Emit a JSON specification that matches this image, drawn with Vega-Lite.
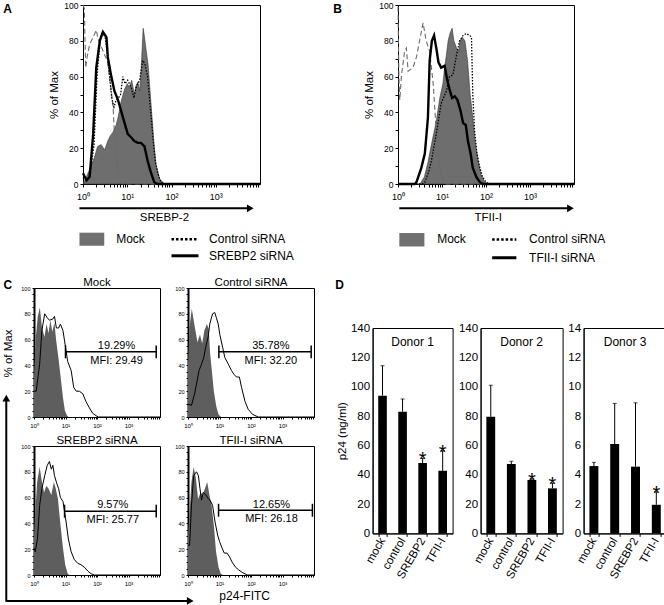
{
"$schema":"https://vega.github.io/schema/vega-lite/v6.json",
"padding":{"left":1,"top":0,"right":0,"bottom":0},
"background":"white",
"config":{"font":"Liberation Sans","view":{"stroke":"black","strokeWidth":1},
"axis":{"grid":false,"domainColor":"black","tickColor":"black","labelColor":"black","titleColor":"black","titleFontWeight":"normal","labelFont":"Liberation Sans","titleFont":"Liberation Sans"},
"title":{"font":"Liberation Sans","fontWeight":"normal","color":"black"},
"text":{"font":"Liberation Sans","color":"black"}},
"datasets":{
"hist":[
{"p":"A","s":"m","x":0,"y":0},{"p":"A","s":"m","x":0.04,"y":2},{"p":"A","s":"m","x":0.15,"y":8},{"p":"A","s":"m","x":0.26,"y":15},{"p":"A","s":"m","x":0.33,"y":21},{"p":"A","s":"m","x":0.41,"y":22},{"p":"A","s":"m","x":0.49,"y":19},{"p":"A","s":"m","x":0.56,"y":24},{"p":"A","s":"m","x":0.62,"y":27},{"p":"A","s":"m","x":0.68,"y":29},{"p":"A","s":"m","x":0.75,"y":33},{"p":"A","s":"m","x":0.8,"y":38},{"p":"A","s":"m","x":0.86,"y":46},{"p":"A","s":"m","x":0.94,"y":53},{"p":"A","s":"m","x":1,"y":56},{"p":"A","s":"m","x":1.05,"y":54},{"p":"A","s":"m","x":1.1,"y":58},{"p":"A","s":"m","x":1.16,"y":50},{"p":"A","s":"m","x":1.2,"y":55},{"p":"A","s":"m","x":1.24,"y":57},{"p":"A","s":"m","x":1.28,"y":52},{"p":"A","s":"m","x":1.31,"y":62},{"p":"A","s":"m","x":1.36,"y":87},{"p":"A","s":"m","x":1.39,"y":82},{"p":"A","s":"m","x":1.42,"y":76},{"p":"A","s":"m","x":1.47,"y":67},{"p":"A","s":"m","x":1.53,"y":47},{"p":"A","s":"m","x":1.6,"y":24},{"p":"A","s":"m","x":1.65,"y":11},{"p":"A","s":"m","x":1.73,"y":3},{"p":"A","s":"m","x":1.84,"y":0},{"p":"A","s":"m","x":4,"y":0},
{"p":"A","s":"c","x":0,"y":4},{"p":"A","s":"c","x":0.08,"y":2},{"p":"A","s":"c","x":0.15,"y":4},{"p":"A","s":"c","x":0.25,"y":22},{"p":"A","s":"c","x":0.32,"y":62},{"p":"A","s":"c","x":0.4,"y":83},{"p":"A","s":"c","x":0.44,"y":85},{"p":"A","s":"c","x":0.5,"y":82},{"p":"A","s":"c","x":0.55,"y":73},{"p":"A","s":"c","x":0.6,"y":60},{"p":"A","s":"c","x":0.65,"y":48},{"p":"A","s":"c","x":0.7,"y":43},{"p":"A","s":"c","x":0.75,"y":47},{"p":"A","s":"c","x":0.8,"y":48},{"p":"A","s":"c","x":0.85,"y":50},{"p":"A","s":"c","x":0.9,"y":60},{"p":"A","s":"c","x":0.95,"y":56},{"p":"A","s":"c","x":1.01,"y":58},{"p":"A","s":"c","x":1.09,"y":54},{"p":"A","s":"c","x":1.15,"y":48},{"p":"A","s":"c","x":1.2,"y":54},{"p":"A","s":"c","x":1.28,"y":58},{"p":"A","s":"c","x":1.35,"y":69},{"p":"A","s":"c","x":1.4,"y":67},{"p":"A","s":"c","x":1.46,"y":60},{"p":"A","s":"c","x":1.52,"y":43},{"p":"A","s":"c","x":1.58,"y":26},{"p":"A","s":"c","x":1.63,"y":13},{"p":"A","s":"c","x":1.69,"y":6},{"p":"A","s":"c","x":1.76,"y":1},{"p":"A","s":"c","x":1.84,"y":0},{"p":"A","s":"c","x":4,"y":0},
{"p":"A","s":"k","x":0,"y":6},{"p":"A","s":"k","x":0.08,"y":2},{"p":"A","s":"k","x":0.15,"y":4},{"p":"A","s":"k","x":0.23,"y":28},{"p":"A","s":"k","x":0.3,"y":65},{"p":"A","s":"k","x":0.38,"y":80},{"p":"A","s":"k","x":0.45,"y":85},{"p":"A","s":"k","x":0.53,"y":82},{"p":"A","s":"k","x":0.56,"y":71},{"p":"A","s":"k","x":0.64,"y":60},{"p":"A","s":"k","x":0.71,"y":52},{"p":"A","s":"k","x":0.79,"y":47},{"p":"A","s":"k","x":0.86,"y":41},{"p":"A","s":"k","x":0.94,"y":34},{"p":"A","s":"k","x":1.01,"y":28},{"p":"A","s":"k","x":1.09,"y":26},{"p":"A","s":"k","x":1.16,"y":24},{"p":"A","s":"k","x":1.24,"y":23},{"p":"A","s":"k","x":1.31,"y":23},{"p":"A","s":"k","x":1.39,"y":21},{"p":"A","s":"k","x":1.46,"y":13},{"p":"A","s":"k","x":1.54,"y":6},{"p":"A","s":"k","x":1.61,"y":1},{"p":"A","s":"k","x":1.69,"y":0},{"p":"A","s":"k","x":4,"y":0},
{"p":"A","s":"i","x":0,"y":100},{"p":"A","s":"i","x":0.03,"y":98},{"p":"A","s":"i","x":0.06,"y":65},{"p":"A","s":"i","x":0.1,"y":72},{"p":"A","s":"i","x":0.15,"y":78},{"p":"A","s":"i","x":0.23,"y":82},{"p":"A","s":"i","x":0.3,"y":86},{"p":"A","s":"i","x":0.34,"y":81},{"p":"A","s":"i","x":0.41,"y":77},{"p":"A","s":"i","x":0.49,"y":72},{"p":"A","s":"i","x":0.55,"y":69},{"p":"A","s":"i","x":0.62,"y":56},{"p":"A","s":"i","x":0.68,"y":43},{"p":"A","s":"i","x":0.71,"y":28},{"p":"A","s":"i","x":0.75,"y":17},{"p":"A","s":"i","x":0.79,"y":7},{"p":"A","s":"i","x":0.85,"y":1},{"p":"A","s":"i","x":0.9,"y":0},{"p":"A","s":"i","x":4,"y":0},
{"p":"B","s":"m","x":0,"y":0},{"p":"B","s":"m","x":0.5,"y":0},{"p":"B","s":"m","x":0.6,"y":4},{"p":"B","s":"m","x":0.68,"y":12},{"p":"B","s":"m","x":0.76,"y":22},{"p":"B","s":"m","x":0.87,"y":35},{"p":"B","s":"m","x":0.95,"y":48},{"p":"B","s":"m","x":1.02,"y":56},{"p":"B","s":"m","x":1.06,"y":65},{"p":"B","s":"m","x":1.1,"y":72},{"p":"B","s":"m","x":1.14,"y":80},{"p":"B","s":"m","x":1.18,"y":84},{"p":"B","s":"m","x":1.23,"y":87},{"p":"B","s":"m","x":1.27,"y":80},{"p":"B","s":"m","x":1.33,"y":76},{"p":"B","s":"m","x":1.38,"y":74},{"p":"B","s":"m","x":1.41,"y":80},{"p":"B","s":"m","x":1.46,"y":82},{"p":"B","s":"m","x":1.52,"y":80},{"p":"B","s":"m","x":1.58,"y":69},{"p":"B","s":"m","x":1.64,"y":50},{"p":"B","s":"m","x":1.7,"y":37},{"p":"B","s":"m","x":1.75,"y":24},{"p":"B","s":"m","x":1.82,"y":13},{"p":"B","s":"m","x":1.89,"y":5},{"p":"B","s":"m","x":1.97,"y":1},{"p":"B","s":"m","x":2.05,"y":0},{"p":"B","s":"m","x":4,"y":0},
{"p":"B","s":"c","x":0,"y":0},{"p":"B","s":"c","x":0.55,"y":0},{"p":"B","s":"c","x":0.61,"y":1},{"p":"B","s":"c","x":0.7,"y":7},{"p":"B","s":"c","x":0.76,"y":13},{"p":"B","s":"c","x":0.87,"y":28},{"p":"B","s":"c","x":0.98,"y":45},{"p":"B","s":"c","x":1.1,"y":52},{"p":"B","s":"c","x":1.17,"y":60},{"p":"B","s":"c","x":1.25,"y":61},{"p":"B","s":"c","x":1.33,"y":72},{"p":"B","s":"c","x":1.4,"y":80},{"p":"B","s":"c","x":1.48,"y":83},{"p":"B","s":"c","x":1.55,"y":84},{"p":"B","s":"c","x":1.63,"y":83},{"p":"B","s":"c","x":1.67,"y":82},{"p":"B","s":"c","x":1.7,"y":50},{"p":"B","s":"c","x":1.74,"y":30},{"p":"B","s":"c","x":1.79,"y":18},{"p":"B","s":"c","x":1.85,"y":10},{"p":"B","s":"c","x":1.92,"y":4},{"p":"B","s":"c","x":2,"y":1},{"p":"B","s":"c","x":2.08,"y":0},{"p":"B","s":"c","x":4,"y":0},
{"p":"B","s":"k","x":0,"y":0},{"p":"B","s":"k","x":0.38,"y":0},{"p":"B","s":"k","x":0.42,"y":1},{"p":"B","s":"k","x":0.53,"y":9},{"p":"B","s":"k","x":0.61,"y":17},{"p":"B","s":"k","x":0.68,"y":37},{"p":"B","s":"k","x":0.72,"y":69},{"p":"B","s":"k","x":0.77,"y":80},{"p":"B","s":"k","x":0.82,"y":83},{"p":"B","s":"k","x":0.87,"y":76},{"p":"B","s":"k","x":0.92,"y":68},{"p":"B","s":"k","x":0.98,"y":65},{"p":"B","s":"k","x":1.06,"y":66},{"p":"B","s":"k","x":1.12,"y":58},{"p":"B","s":"k","x":1.17,"y":53},{"p":"B","s":"k","x":1.23,"y":48},{"p":"B","s":"k","x":1.29,"y":49},{"p":"B","s":"k","x":1.35,"y":47},{"p":"B","s":"k","x":1.42,"y":41},{"p":"B","s":"k","x":1.48,"y":34},{"p":"B","s":"k","x":1.54,"y":33},{"p":"B","s":"k","x":1.59,"y":24},{"p":"B","s":"k","x":1.65,"y":17},{"p":"B","s":"k","x":1.7,"y":9},{"p":"B","s":"k","x":1.78,"y":4},{"p":"B","s":"k","x":1.86,"y":1},{"p":"B","s":"k","x":1.93,"y":0},{"p":"B","s":"k","x":4,"y":0},
{"p":"B","s":"i","x":0,"y":99},{"p":"B","s":"i","x":0.02,"y":60},{"p":"B","s":"i","x":0.04,"y":47},{"p":"B","s":"i","x":0.08,"y":61},{"p":"B","s":"i","x":0.15,"y":74},{"p":"B","s":"i","x":0.19,"y":76},{"p":"B","s":"i","x":0.23,"y":63},{"p":"B","s":"i","x":0.34,"y":65},{"p":"B","s":"i","x":0.42,"y":71},{"p":"B","s":"i","x":0.49,"y":80},{"p":"B","s":"i","x":0.57,"y":90},{"p":"B","s":"i","x":0.64,"y":80},{"p":"B","s":"i","x":0.72,"y":74},{"p":"B","s":"i","x":0.8,"y":56},{"p":"B","s":"i","x":0.85,"y":37},{"p":"B","s":"i","x":0.89,"y":22},{"p":"B","s":"i","x":0.95,"y":9},{"p":"B","s":"i","x":1.02,"y":2},{"p":"B","s":"i","x":1.1,"y":0},{"p":"B","s":"i","x":4,"y":0},
{"p":"CM","s":"g","x":0,"y":30},{"p":"CM","s":"g","x":0.05,"y":60},{"p":"CM","s":"g","x":0.12,"y":78},{"p":"CM","s":"g","x":0.185,"y":85},{"p":"CM","s":"g","x":0.25,"y":70},{"p":"CM","s":"g","x":0.33,"y":62},{"p":"CM","s":"g","x":0.4,"y":72},{"p":"CM","s":"g","x":0.46,"y":65},{"p":"CM","s":"g","x":0.52,"y":75},{"p":"CM","s":"g","x":0.58,"y":66},{"p":"CM","s":"g","x":0.65,"y":73},{"p":"CM","s":"g","x":0.7,"y":60},{"p":"CM","s":"g","x":0.78,"y":45},{"p":"CM","s":"g","x":0.85,"y":30},{"p":"CM","s":"g","x":0.92,"y":15},{"p":"CM","s":"g","x":0.98,"y":5},{"p":"CM","s":"g","x":1.05,"y":1},{"p":"CM","s":"g","x":1.1,"y":0},{"p":"CM","s":"g","x":4,"y":0},
{"p":"CM","s":"o","x":0,"y":20},{"p":"CM","s":"o","x":0.07,"y":20},{"p":"CM","s":"o","x":0.18,"y":41},{"p":"CM","s":"o","x":0.25,"y":67},{"p":"CM","s":"o","x":0.34,"y":80},{"p":"CM","s":"o","x":0.42,"y":77},{"p":"CM","s":"o","x":0.49,"y":75},{"p":"CM","s":"o","x":0.6,"y":76},{"p":"CM","s":"o","x":0.65,"y":78},{"p":"CM","s":"o","x":0.71,"y":69},{"p":"CM","s":"o","x":0.78,"y":69},{"p":"CM","s":"o","x":0.84,"y":72},{"p":"CM","s":"o","x":0.92,"y":67},{"p":"CM","s":"o","x":0.97,"y":59},{"p":"CM","s":"o","x":1.02,"y":51},{"p":"CM","s":"o","x":1.07,"y":43},{"p":"CM","s":"o","x":1.18,"y":36},{"p":"CM","s":"o","x":1.26,"y":23},{"p":"CM","s":"o","x":1.34,"y":20},{"p":"CM","s":"o","x":1.44,"y":20},{"p":"CM","s":"o","x":1.55,"y":18},{"p":"CM","s":"o","x":1.65,"y":12},{"p":"CM","s":"o","x":1.76,"y":7},{"p":"CM","s":"o","x":1.86,"y":3},{"p":"CM","s":"o","x":1.97,"y":1},{"p":"CM","s":"o","x":2.04,"y":0},{"p":"CM","s":"o","x":4,"y":0},
{"p":"CC","s":"g","x":0,"y":40},{"p":"CC","s":"g","x":0.05,"y":70},{"p":"CC","s":"g","x":0.12,"y":84},{"p":"CC","s":"g","x":0.2,"y":72},{"p":"CC","s":"g","x":0.3,"y":58},{"p":"CC","s":"g","x":0.38,"y":64},{"p":"CC","s":"g","x":0.45,"y":57},{"p":"CC","s":"g","x":0.52,"y":67},{"p":"CC","s":"g","x":0.6,"y":72},{"p":"CC","s":"g","x":0.66,"y":68},{"p":"CC","s":"g","x":0.7,"y":50},{"p":"CC","s":"g","x":0.76,"y":35},{"p":"CC","s":"g","x":0.82,"y":20},{"p":"CC","s":"g","x":0.9,"y":8},{"p":"CC","s":"g","x":0.97,"y":2},{"p":"CC","s":"g","x":1.05,"y":0},{"p":"CC","s":"g","x":4,"y":0},
{"p":"CC","s":"o","x":0,"y":10},{"p":"CC","s":"o","x":0.11,"y":9},{"p":"CC","s":"o","x":0.21,"y":18},{"p":"CC","s":"o","x":0.29,"y":28},{"p":"CC","s":"o","x":0.35,"y":36},{"p":"CC","s":"o","x":0.43,"y":41},{"p":"CC","s":"o","x":0.5,"y":46},{"p":"CC","s":"o","x":0.56,"y":54},{"p":"CC","s":"o","x":0.64,"y":62},{"p":"CC","s":"o","x":0.69,"y":72},{"p":"CC","s":"o","x":0.78,"y":80},{"p":"CC","s":"o","x":0.85,"y":81},{"p":"CC","s":"o","x":0.9,"y":77},{"p":"CC","s":"o","x":0.96,"y":72},{"p":"CC","s":"o","x":1.01,"y":64},{"p":"CC","s":"o","x":1.1,"y":54},{"p":"CC","s":"o","x":1.17,"y":46},{"p":"CC","s":"o","x":1.28,"y":41},{"p":"CC","s":"o","x":1.38,"y":36},{"p":"CC","s":"o","x":1.46,"y":33},{"p":"CC","s":"o","x":1.54,"y":31},{"p":"CC","s":"o","x":1.63,"y":31},{"p":"CC","s":"o","x":1.7,"y":23},{"p":"CC","s":"o","x":1.81,"y":12},{"p":"CC","s":"o","x":1.91,"y":6},{"p":"CC","s":"o","x":2.05,"y":2},{"p":"CC","s":"o","x":2.23,"y":0},{"p":"CC","s":"o","x":4,"y":0},
{"p":"CS","s":"g","x":0,"y":30},{"p":"CS","s":"g","x":0.02,"y":41},{"p":"CS","s":"g","x":0.1,"y":72},{"p":"CS","s":"g","x":0.18,"y":84},{"p":"CS","s":"g","x":0.25,"y":72},{"p":"CS","s":"g","x":0.32,"y":64},{"p":"CS","s":"g","x":0.39,"y":69},{"p":"CS","s":"g","x":0.46,"y":67},{"p":"CS","s":"g","x":0.55,"y":62},{"p":"CS","s":"g","x":0.63,"y":72},{"p":"CS","s":"g","x":0.69,"y":67},{"p":"CS","s":"g","x":0.76,"y":59},{"p":"CS","s":"g","x":0.84,"y":39},{"p":"CS","s":"g","x":0.92,"y":21},{"p":"CS","s":"g","x":0.99,"y":8},{"p":"CS","s":"g","x":1.07,"y":1},{"p":"CS","s":"g","x":1.12,"y":0},{"p":"CS","s":"g","x":4,"y":0},
{"p":"CS","s":"o","x":0,"y":21},{"p":"CS","s":"o","x":0.04,"y":18},{"p":"CS","s":"o","x":0.11,"y":28},{"p":"CS","s":"o","x":0.18,"y":54},{"p":"CS","s":"o","x":0.25,"y":67},{"p":"CS","s":"o","x":0.34,"y":77},{"p":"CS","s":"o","x":0.42,"y":85},{"p":"CS","s":"o","x":0.49,"y":88},{"p":"CS","s":"o","x":0.55,"y":82},{"p":"CS","s":"o","x":0.6,"y":85},{"p":"CS","s":"o","x":0.65,"y":77},{"p":"CS","s":"o","x":0.71,"y":72},{"p":"CS","s":"o","x":0.78,"y":67},{"p":"CS","s":"o","x":0.84,"y":60},{"p":"CS","s":"o","x":0.92,"y":57},{"p":"CS","s":"o","x":0.97,"y":49},{"p":"CS","s":"o","x":1.02,"y":41},{"p":"CS","s":"o","x":1.09,"y":28},{"p":"CS","s":"o","x":1.18,"y":18},{"p":"CS","s":"o","x":1.28,"y":12},{"p":"CS","s":"o","x":1.39,"y":9},{"p":"CS","s":"o","x":1.49,"y":8},{"p":"CS","s":"o","x":1.6,"y":6},{"p":"CS","s":"o","x":1.71,"y":3},{"p":"CS","s":"o","x":1.81,"y":1},{"p":"CS","s":"o","x":1.92,"y":0},{"p":"CS","s":"o","x":4,"y":0},
{"p":"CT","s":"g","x":0,"y":30},{"p":"CT","s":"g","x":0.03,"y":41},{"p":"CT","s":"g","x":0.11,"y":72},{"p":"CT","s":"g","x":0.18,"y":84},{"p":"CT","s":"g","x":0.25,"y":75},{"p":"CT","s":"g","x":0.32,"y":59},{"p":"CT","s":"g","x":0.4,"y":64},{"p":"CT","s":"g","x":0.46,"y":62},{"p":"CT","s":"g","x":0.54,"y":67},{"p":"CT","s":"g","x":0.61,"y":72},{"p":"CT","s":"g","x":0.68,"y":62},{"p":"CT","s":"g","x":0.75,"y":54},{"p":"CT","s":"g","x":0.83,"y":36},{"p":"CT","s":"g","x":0.89,"y":18},{"p":"CT","s":"g","x":0.97,"y":6},{"p":"CT","s":"g","x":1.04,"y":1},{"p":"CT","s":"g","x":1.11,"y":0},{"p":"CT","s":"g","x":4,"y":0},
{"p":"CT","s":"o","x":0,"y":23},{"p":"CT","s":"o","x":0.05,"y":23},{"p":"CT","s":"o","x":0.11,"y":54},{"p":"CT","s":"o","x":0.18,"y":77},{"p":"CT","s":"o","x":0.27,"y":80},{"p":"CT","s":"o","x":0.33,"y":77},{"p":"CT","s":"o","x":0.38,"y":67},{"p":"CT","s":"o","x":0.43,"y":58},{"p":"CT","s":"o","x":0.48,"y":64},{"p":"CT","s":"o","x":0.57,"y":62},{"p":"CT","s":"o","x":0.65,"y":59},{"p":"CT","s":"o","x":0.7,"y":58},{"p":"CT","s":"o","x":0.78,"y":54},{"p":"CT","s":"o","x":0.86,"y":41},{"p":"CT","s":"o","x":0.94,"y":31},{"p":"CT","s":"o","x":1,"y":26},{"p":"CT","s":"o","x":1.08,"y":21},{"p":"CT","s":"o","x":1.15,"y":17},{"p":"CT","s":"o","x":1.24,"y":17},{"p":"CT","s":"o","x":1.32,"y":14},{"p":"CT","s":"o","x":1.4,"y":10},{"p":"CT","s":"o","x":1.51,"y":6},{"p":"CT","s":"o","x":1.61,"y":4},{"p":"CT","s":"o","x":1.72,"y":2},{"p":"CT","s":"o","x":1.88,"y":0},{"p":"CT","s":"o","x":4,"y":0}
],
"p24":[
{"d":1,"g":"mock","v":93.9,"e":114.3,"sig":0},{"d":1,"g":"control","v":83,"e":91.6,"sig":0},{"d":1,"g":"SREBP2","v":48,"e":51.1,"sig":1},{"d":1,"g":"TFII-I","v":42.7,"e":56.4,"sig":1},
{"d":2,"g":"mock","v":79.5,"e":101,"sig":0},{"d":2,"g":"control","v":47.3,"e":49.1,"sig":0},{"d":2,"g":"SREBP2","v":36.4,"e":37.2,"sig":1},{"d":2,"g":"TFII-I","v":30.7,"e":34.3,"sig":1},
{"d":3,"g":"mock","v":4.59,"e":4.84,"sig":0},{"d":3,"g":"control","v":6.09,"e":8.86,"sig":0},{"d":3,"g":"SREBP2","v":4.55,"e":8.9,"sig":0},{"d":3,"g":"TFII-I","v":1.95,"e":2.84,"sig":1}
]},
"align":"none","spacing":11,
"vconcat":[
{"hconcat":[
{"width":49,"height":1,"mark":"point","data":{"values":[]},"view":{"stroke":null}},
{"width":177,"height":179,"data":{"name":"hist"},
"encoding":{"x":{"field":"x","type":"quantitative","scale":{"domain":[0,4],"nice":false,"zero":false},"axis":{"title":null,"values":[0,0.301,0.477,0.602,0.699,0.778,0.845,0.903,0.954,1,1.301,1.477,1.602,1.699,1.778,1.845,1.903,1.954,2,2.301,2.477,2.602,2.699,2.778,2.845,2.903,2.954,3,3.301,3.477,3.602,3.699,3.778,3.845,3.903,3.954],"labelExpr":"datum.value == 0 ? '10⁰' : datum.value == 1 ? '10¹' : datum.value == 2 ? '10²' : datum.value == 3 ? '10³' : ''","labelFontSize":9,"tickSize":3,"labelPadding":5,"labelFlush":false,"labelOverlap":false}},
"y":{"field":"y","type":"quantitative","scale":{"domain":[0,100],"nice":false,"zero":false},"axis":{"title":"% of Max","values":[0,10,20,30,40,50,60,70,80,90,100],"labelExpr":"datum.value % 20 == 0 ? datum.label : ''","labelFontSize":8.5,"tickSize":3,"labelPadding":2,"titleFontSize":11.5,"titlePadding":4,"labelOverlap":false}}},
"layer":[
{"transform":[{"filter":"datum.p=='A' && datum.s=='m'"}],"mark":{"type":"area","color":"#6e6e6e","stroke":"#333","strokeWidth":0.6}},
{"transform":[{"filter":"datum.p=='A' && datum.s=='i'"}],"mark":{"type":"line","color":"#6a6a6a","strokeWidth":1.1,"strokeDash":[5,3]}},
{"transform":[{"filter":"datum.p=='A' && datum.s=='c'"}],"mark":{"type":"line","color":"black","strokeWidth":1.3,"strokeDash":[1.5,1.5]}},
{"transform":[{"filter":"datum.p=='A' && datum.s=='k'"}],"mark":{"type":"line","color":"black","strokeWidth":2.4}},
{"transform":[{"filter":"datum.p=='A' && datum.s=='m' && datum.x==0"}],"mark":{"type":"rule","color":"black","strokeWidth":2},"encoding":{"x":{"datum":-0.08},"x2":{"datum":3.8},"y":{"datum":-13.6}}},
{"transform":[{"filter":"datum.p=='A' && datum.s=='m' && datum.x==0"}],"mark":{"type":"point","shape":"triangle-right","filled":true,"size":60,"color":"black","opacity":1},"encoding":{"x":{"datum":3.78},"y":{"datum":-13.6}}},
{"transform":[{"filter":"datum.p=='A' && datum.s=='m' && datum.x==0"}],"mark":{"type":"text","text":"SREBP-2","fontSize":11.5},"encoding":{"x":{"datum":1.84},"y":{"datum":-19}}},
{"transform":[{"filter":"datum.p=='A' && datum.s=='m' && datum.x==0"}],"mark":{"type":"rect","color":"#707070"},"encoding":{"x":{"datum":-0.08},"x2":{"datum":0.48},"y":{"datum":-27.2},"y2":{"datum":-34.5}}},
{"transform":[{"filter":"datum.p=='A' && datum.s=='m' && datum.x==0"}],"mark":{"type":"text","text":"Mock","fontSize":12,"align":"left"},"encoding":{"x":{"datum":0.75},"y":{"datum":-30.8}}},
{"transform":[{"filter":"datum.p=='A' && datum.s=='m' && datum.x==0"}],"mark":{"type":"rule","color":"black","strokeWidth":2.5,"strokeDash":[2.5,2]},"encoding":{"x":{"datum":2.0},"x2":{"datum":2.61},"y":{"datum":-30.8}}},
{"transform":[{"filter":"datum.p=='A' && datum.s=='m' && datum.x==0"}],"mark":{"type":"text","text":"Control siRNA","fontSize":12,"align":"left"},"encoding":{"x":{"datum":2.85},"y":{"datum":-30.8}}},
{"transform":[{"filter":"datum.p=='A' && datum.s=='m' && datum.x==0"}],"mark":{"type":"rule","color":"black","strokeWidth":3},"encoding":{"x":{"datum":2.0},"x2":{"datum":2.61},"y":{"datum":-40.1}}},
{"transform":[{"filter":"datum.p=='A' && datum.s=='m' && datum.x==0"}],"mark":{"type":"text","text":"SREBP2 siRNA","fontSize":12,"align":"left"},"encoding":{"x":{"datum":2.85},"y":{"datum":-40.1}}},
{"transform":[{"filter":"datum.p=='A' && datum.s=='m' && datum.x==0"}],"mark":{"type":"text","text":"A","fontSize":12,"fontWeight":"bold","align":"left","baseline":"alphabetic"},"encoding":{"x":{"datum":-1.8},"y":{"datum":95.7}}}
]},
{"width":138,"height":1,"mark":"point","data":{"values":[]},"view":{"stroke":null}},
{"width":176,"height":179,"data":{"name":"hist"},
"encoding":{"x":{"field":"x","type":"quantitative","scale":{"domain":[0,4],"nice":false,"zero":false},"axis":{"title":null,"values":[0,0.301,0.477,0.602,0.699,0.778,0.845,0.903,0.954,1,1.301,1.477,1.602,1.699,1.778,1.845,1.903,1.954,2,2.301,2.477,2.602,2.699,2.778,2.845,2.903,2.954,3,3.301,3.477,3.602,3.699,3.778,3.845,3.903,3.954],"labelExpr":"datum.value == 0 ? '10⁰' : datum.value == 1 ? '10¹' : datum.value == 2 ? '10²' : datum.value == 3 ? '10³' : ''","labelFontSize":9,"tickSize":3,"labelPadding":5,"labelFlush":false,"labelOverlap":false}},
"y":{"field":"y","type":"quantitative","scale":{"domain":[0,100],"nice":false,"zero":false},"axis":{"title":"% of Max","values":[0,10,20,30,40,50,60,70,80,90,100],"labelExpr":"datum.value % 20 == 0 ? datum.label : ''","labelFontSize":8.5,"tickSize":3,"labelPadding":2,"titleFontSize":11.5,"titlePadding":4,"labelOverlap":false}}},
"layer":[
{"transform":[{"filter":"datum.p=='B' && datum.s=='m'"}],"mark":{"type":"area","color":"#6e6e6e","stroke":"#333","strokeWidth":0.6}},
{"transform":[{"filter":"datum.p=='B' && datum.s=='i'"}],"mark":{"type":"line","color":"#6a6a6a","strokeWidth":1.1,"strokeDash":[5,3]}},
{"transform":[{"filter":"datum.p=='B' && datum.s=='c'"}],"mark":{"type":"line","color":"black","strokeWidth":1.3,"strokeDash":[1.5,1.5]}},
{"transform":[{"filter":"datum.p=='B' && datum.s=='k'"}],"mark":{"type":"line","color":"black","strokeWidth":2.4}},
{"transform":[{"filter":"datum.p=='B' && datum.s=='m' && datum.x==0"}],"mark":{"type":"rule","color":"black","strokeWidth":2},"encoding":{"x":{"datum":0.03},"x2":{"datum":3.9},"y":{"datum":-13.6}}},
{"transform":[{"filter":"datum.p=='B' && datum.s=='m' && datum.x==0"}],"mark":{"type":"point","shape":"triangle-right","filled":true,"size":60,"color":"black","opacity":1},"encoding":{"x":{"datum":3.92},"y":{"datum":-13.6}}},
{"transform":[{"filter":"datum.p=='B' && datum.s=='m' && datum.x==0"}],"mark":{"type":"text","text":"TFII-I","fontSize":11.5},"encoding":{"x":{"datum":2.05},"y":{"datum":-19}}},
{"transform":[{"filter":"datum.p=='B' && datum.s=='m' && datum.x==0"}],"mark":{"type":"rect","color":"#707070"},"encoding":{"x":{"datum":0.03},"x2":{"datum":0.6},"y":{"datum":-27.4},"y2":{"datum":-34.9}}},
{"transform":[{"filter":"datum.p=='B' && datum.s=='m' && datum.x==0"}],"mark":{"type":"text","text":"Mock","fontSize":12,"align":"left"},"encoding":{"x":{"datum":0.89},"y":{"datum":-31}}},
{"transform":[{"filter":"datum.p=='B' && datum.s=='m' && datum.x==0"}],"mark":{"type":"rule","color":"black","strokeWidth":2.5,"strokeDash":[2.5,2]},"encoding":{"x":{"datum":2.14},"x2":{"datum":2.69},"y":{"datum":-31}}},
{"transform":[{"filter":"datum.p=='B' && datum.s=='m' && datum.x==0"}],"mark":{"type":"text","text":"Control siRNA","fontSize":12,"align":"left"},"encoding":{"x":{"datum":2.98},"y":{"datum":-31}}},
{"transform":[{"filter":"datum.p=='B' && datum.s=='m' && datum.x==0"}],"mark":{"type":"rule","color":"black","strokeWidth":3},"encoding":{"x":{"datum":2.14},"x2":{"datum":2.69},"y":{"datum":-41.2}}},
{"transform":[{"filter":"datum.p=='B' && datum.s=='m' && datum.x==0"}],"mark":{"type":"text","text":"TFII-I siRNA","fontSize":12,"align":"left"},"encoding":{"x":{"datum":2.98},"y":{"datum":-41.2}}},
{"transform":[{"filter":"datum.p=='B' && datum.s=='m' && datum.x==0"}],"mark":{"type":"text","text":"B","fontSize":12,"fontWeight":"bold","align":"left","baseline":"alphabetic"},"encoding":{"x":{"datum":-1.47},"y":{"datum":95.7}}}
]}
],"spacing":0,"bounds":"flush","align":"each"},
{"hconcat":[
{"concat":[
{"width":126,"height":129,"data":{"name":"hist"},
"encoding":{"x":{"field":"x","type":"quantitative","scale":{"domain":[0,4],"nice":false,"zero":false},"axis":{"title":null,"values":[0,0.301,0.477,0.602,0.699,0.778,0.845,0.903,0.954,1,1.301,1.477,1.602,1.699,1.778,1.845,1.903,1.954,2,2.301,2.477,2.602,2.699,2.778,2.845,2.903,2.954,3,3.301,3.477,3.602,3.699,3.778,3.845,3.903,3.954],"labelExpr":"datum.value == 0 ? '10⁰' : datum.value == 1 ? '10¹' : datum.value == 2 ? '10²' : datum.value == 3 ? '10³' : ''","labelFontSize":6,"tickSize":2,"labelPadding":3,"labelFlush":false,"labelOverlap":false}},
"y":{"field":"y","type":"quantitative","scale":{"domain":[0,100],"nice":false,"zero":false},"axis":{"title":null,"values":[0,5,10,15,20,25,30,35,40,45,50,55,60,65,70,75,80,85,90,95,100],"labelExpr":"datum.value % 20 == 0 ? datum.label : ''","labelFontSize":5.5,"tickSize":2,"labelPadding":2,"labelOverlap":false,"domainWidth":2}}},
"layer":[
{"transform":[{"filter":"datum.p=='CM' && datum.s=='g'"}],"mark":{"type":"area","color":"#5e5e5e"}},
{"transform":[{"filter":"datum.p=='CM' && datum.s=='o'"}],"mark":{"type":"line","color":"black","strokeWidth":1}},
{"transform":[{"filter":"datum.p=='CM' && datum.s=='g' && datum.x==0"}],"mark":{"type":"text","text":"Mock","fontSize":11.5,"baseline":"alphabetic"},"encoding":{"x":{"datum":2},"y":{"datum":101.6}}},
{"transform":[{"filter":"datum.p=='CM' && datum.s=='g' && datum.x==0"}],"mark":{"type":"rule","color":"black","strokeWidth":1.5},"encoding":{"x":{"datum":1.0},"x2":{"datum":3.88},"y":{"datum":50.5}}},
{"transform":[{"filter":"datum.p=='CM' && datum.s=='g' && datum.x==0"}],"mark":{"type":"rule","color":"black","strokeWidth":1.5},"encoding":{"x":{"datum":1.0},"y":{"datum":45.5},"y2":{"datum":55.5}}},
{"transform":[{"filter":"datum.p=='CM' && datum.s=='g' && datum.x==0"}],"mark":{"type":"rule","color":"black","strokeWidth":1.5},"encoding":{"x":{"datum":3.88},"y":{"datum":45.5},"y2":{"datum":55.5}}},
{"transform":[{"filter":"datum.p=='CM' && datum.s=='g' && datum.x==0"}],"mark":{"type":"text","text":"19.29%","fontSize":11},"encoding":{"x":{"datum":2.62},"y":{"datum":54.8}}},
{"transform":[{"filter":"datum.p=='CM' && datum.s=='g' && datum.x==0"}],"mark":{"type":"text","text":"MFI: 29.49","fontSize":11},"encoding":{"x":{"datum":2.62},"y":{"datum":43.6}}},
{"transform":[{"filter":"datum.p=='CM' && datum.s=='g' && datum.x==0"}],"mark":{"type":"text","text":"C","fontSize":12,"fontWeight":"bold","align":"left","baseline":"alphabetic"},"encoding":{"x":{"datum":-0.97},"y":{"datum":99.2}}},
{"transform":[{"filter":"datum.p=='CM' && datum.s=='g' && datum.x==0"}],"mark":{"type":"text","text":"% of Max","fontSize":11.5,"angle":270},"encoding":{"x":{"datum":-0.8},"y":{"datum":49.2}}},
{"transform":[{"filter":"datum.p=='CM' && datum.s=='g' && datum.x==0"}],"mark":{"type":"rule","color":"black","strokeWidth":2},"encoding":{"x":{"datum":-0.88},"y":{"datum":-143.2},"y2":{"datum":14.6}}},
{"transform":[{"filter":"datum.p=='CM' && datum.s=='g' && datum.x==0"}],"mark":{"type":"point","shape":"triangle-up","filled":true,"size":60,"color":"black","opacity":1},"encoding":{"x":{"datum":-0.88},"y":{"datum":14.6}}}
]},
{"width":126,"height":129,"data":{"name":"hist"},
"encoding":{"x":{"field":"x","type":"quantitative","scale":{"domain":[0,4],"nice":false,"zero":false},"axis":{"title":null,"values":[0,0.301,0.477,0.602,0.699,0.778,0.845,0.903,0.954,1,1.301,1.477,1.602,1.699,1.778,1.845,1.903,1.954,2,2.301,2.477,2.602,2.699,2.778,2.845,2.903,2.954,3,3.301,3.477,3.602,3.699,3.778,3.845,3.903,3.954],"labelExpr":"datum.value == 0 ? '10⁰' : datum.value == 1 ? '10¹' : datum.value == 2 ? '10²' : datum.value == 3 ? '10³' : ''","labelFontSize":6,"tickSize":2,"labelPadding":3,"labelFlush":false,"labelOverlap":false}},
"y":{"field":"y","type":"quantitative","scale":{"domain":[0,100],"nice":false,"zero":false},"axis":{"title":null,"values":[0,5,10,15,20,25,30,35,40,45,50,55,60,65,70,75,80,85,90,95,100],"labelExpr":"datum.value % 20 == 0 ? datum.label : ''","labelFontSize":5.5,"tickSize":2,"labelPadding":2,"labelOverlap":false,"domainWidth":2}}},
"layer":[
{"transform":[{"filter":"datum.p=='CC' && datum.s=='g'"}],"mark":{"type":"area","color":"#5e5e5e"}},
{"transform":[{"filter":"datum.p=='CC' && datum.s=='o'"}],"mark":{"type":"line","color":"black","strokeWidth":1}},
{"transform":[{"filter":"datum.p=='CC' && datum.s=='g' && datum.x==0"}],"mark":{"type":"text","text":"Control siRNA","fontSize":11.5,"baseline":"alphabetic"},"encoding":{"x":{"datum":2},"y":{"datum":101.6}}},
{"transform":[{"filter":"datum.p=='CC' && datum.s=='g' && datum.x==0"}],"mark":{"type":"rule","color":"black","strokeWidth":1.5},"encoding":{"x":{"datum":0.98},"x2":{"datum":3.91},"y":{"datum":50.5}}},
{"transform":[{"filter":"datum.p=='CC' && datum.s=='g' && datum.x==0"}],"mark":{"type":"rule","color":"black","strokeWidth":1.5},"encoding":{"x":{"datum":0.98},"y":{"datum":45.5},"y2":{"datum":55.5}}},
{"transform":[{"filter":"datum.p=='CC' && datum.s=='g' && datum.x==0"}],"mark":{"type":"rule","color":"black","strokeWidth":1.5},"encoding":{"x":{"datum":3.91},"y":{"datum":45.5},"y2":{"datum":55.5}}},
{"transform":[{"filter":"datum.p=='CC' && datum.s=='g' && datum.x==0"}],"mark":{"type":"text","text":"35.78%","fontSize":11},"encoding":{"x":{"datum":2.63},"y":{"datum":54.8}}},
{"transform":[{"filter":"datum.p=='CC' && datum.s=='g' && datum.x==0"}],"mark":{"type":"text","text":"MFI: 32.20","fontSize":11},"encoding":{"x":{"datum":2.63},"y":{"datum":43.6}}}
]},
{"width":126,"height":129,"data":{"name":"hist"},
"encoding":{"x":{"field":"x","type":"quantitative","scale":{"domain":[0,4],"nice":false,"zero":false},"axis":{"title":null,"values":[0,0.301,0.477,0.602,0.699,0.778,0.845,0.903,0.954,1,1.301,1.477,1.602,1.699,1.778,1.845,1.903,1.954,2,2.301,2.477,2.602,2.699,2.778,2.845,2.903,2.954,3,3.301,3.477,3.602,3.699,3.778,3.845,3.903,3.954],"labelExpr":"datum.value == 0 ? '10⁰' : datum.value == 1 ? '10¹' : datum.value == 2 ? '10²' : datum.value == 3 ? '10³' : ''","labelFontSize":6,"tickSize":2,"labelPadding":3,"labelFlush":false,"labelOverlap":false}},
"y":{"field":"y","type":"quantitative","scale":{"domain":[0,100],"nice":false,"zero":false},"axis":{"title":null,"values":[0,5,10,15,20,25,30,35,40,45,50,55,60,65,70,75,80,85,90,95,100],"labelExpr":"datum.value % 20 == 0 ? datum.label : ''","labelFontSize":5.5,"tickSize":2,"labelPadding":2,"labelOverlap":false,"domainWidth":2}}},
"layer":[
{"transform":[{"filter":"datum.p=='CS' && datum.s=='g'"}],"mark":{"type":"area","color":"#5e5e5e"}},
{"transform":[{"filter":"datum.p=='CS' && datum.s=='o'"}],"mark":{"type":"line","color":"black","strokeWidth":1}},
{"transform":[{"filter":"datum.p=='CS' && datum.s=='g' && datum.x==0"}],"mark":{"type":"text","text":"SREBP2 siRNA","fontSize":11.5,"baseline":"alphabetic"},"encoding":{"x":{"datum":2},"y":{"datum":101.6}}},
{"transform":[{"filter":"datum.p=='CS' && datum.s=='g' && datum.x==0"}],"mark":{"type":"rule","color":"black","strokeWidth":1.5},"encoding":{"x":{"datum":0.97},"x2":{"datum":3.88},"y":{"datum":49.5}}},
{"transform":[{"filter":"datum.p=='CS' && datum.s=='g' && datum.x==0"}],"mark":{"type":"rule","color":"black","strokeWidth":1.5},"encoding":{"x":{"datum":0.97},"y":{"datum":44.5},"y2":{"datum":54.5}}},
{"transform":[{"filter":"datum.p=='CS' && datum.s=='g' && datum.x==0"}],"mark":{"type":"rule","color":"black","strokeWidth":1.5},"encoding":{"x":{"datum":3.88},"y":{"datum":44.5},"y2":{"datum":54.5}}},
{"transform":[{"filter":"datum.p=='CS' && datum.s=='g' && datum.x==0"}],"mark":{"type":"text","text":"9.57%","fontSize":11},"encoding":{"x":{"datum":2.5},"y":{"datum":54.1}}},
{"transform":[{"filter":"datum.p=='CS' && datum.s=='g' && datum.x==0"}],"mark":{"type":"text","text":"MFI: 25.77","fontSize":11},"encoding":{"x":{"datum":2.5},"y":{"datum":43}}},
{"transform":[{"filter":"datum.p=='CS' && datum.s=='g' && datum.x==0"}],"mark":{"type":"rule","color":"black","strokeWidth":2},"encoding":{"x":{"datum":-0.88},"x2":{"datum":4.96},"y":{"datum":-20.1}}},
{"transform":[{"filter":"datum.p=='CS' && datum.s=='g' && datum.x==0"}],"mark":{"type":"point","shape":"triangle-right","filled":true,"size":60,"color":"black","opacity":1},"encoding":{"x":{"datum":4.96},"y":{"datum":-20.1}}}
]},
{"width":126,"height":129,"data":{"name":"hist"},
"encoding":{"x":{"field":"x","type":"quantitative","scale":{"domain":[0,4],"nice":false,"zero":false},"axis":{"title":null,"values":[0,0.301,0.477,0.602,0.699,0.778,0.845,0.903,0.954,1,1.301,1.477,1.602,1.699,1.778,1.845,1.903,1.954,2,2.301,2.477,2.602,2.699,2.778,2.845,2.903,2.954,3,3.301,3.477,3.602,3.699,3.778,3.845,3.903,3.954],"labelExpr":"datum.value == 0 ? '10⁰' : datum.value == 1 ? '10¹' : datum.value == 2 ? '10²' : datum.value == 3 ? '10³' : ''","labelFontSize":6,"tickSize":2,"labelPadding":3,"labelFlush":false,"labelOverlap":false}},
"y":{"field":"y","type":"quantitative","scale":{"domain":[0,100],"nice":false,"zero":false},"axis":{"title":null,"values":[0,5,10,15,20,25,30,35,40,45,50,55,60,65,70,75,80,85,90,95,100],"labelExpr":"datum.value % 20 == 0 ? datum.label : ''","labelFontSize":5.5,"tickSize":2,"labelPadding":2,"labelOverlap":false,"domainWidth":2}}},
"layer":[
{"transform":[{"filter":"datum.p=='CT' && datum.s=='g'"}],"mark":{"type":"area","color":"#5e5e5e"}},
{"transform":[{"filter":"datum.p=='CT' && datum.s=='o'"}],"mark":{"type":"line","color":"black","strokeWidth":1}},
{"transform":[{"filter":"datum.p=='CT' && datum.s=='g' && datum.x==0"}],"mark":{"type":"text","text":"TFII-I siRNA","fontSize":11.5,"baseline":"alphabetic"},"encoding":{"x":{"datum":2},"y":{"datum":101.6}}},
{"transform":[{"filter":"datum.p=='CT' && datum.s=='g' && datum.x==0"}],"mark":{"type":"rule","color":"black","strokeWidth":1.5},"encoding":{"x":{"datum":0.97},"x2":{"datum":3.95},"y":{"datum":50.2}}},
{"transform":[{"filter":"datum.p=='CT' && datum.s=='g' && datum.x==0"}],"mark":{"type":"rule","color":"black","strokeWidth":1.5},"encoding":{"x":{"datum":0.97},"y":{"datum":45.2},"y2":{"datum":55.2}}},
{"transform":[{"filter":"datum.p=='CT' && datum.s=='g' && datum.x==0"}],"mark":{"type":"rule","color":"black","strokeWidth":1.5},"encoding":{"x":{"datum":3.95},"y":{"datum":45.2},"y2":{"datum":55.2}}},
{"transform":[{"filter":"datum.p=='CT' && datum.s=='g' && datum.x==0"}],"mark":{"type":"text","text":"12.65%","fontSize":11},"encoding":{"x":{"datum":2.65},"y":{"datum":54.5}}},
{"transform":[{"filter":"datum.p=='CT' && datum.s=='g' && datum.x==0"}],"mark":{"type":"text","text":"MFI: 26.18","fontSize":11},"encoding":{"x":{"datum":2.65},"y":{"datum":43.3}}},
{"transform":[{"filter":"datum.p=='CT' && datum.s=='g' && datum.x==0"}],"mark":{"type":"text","text":"p24-FITC","fontSize":12},"encoding":{"x":{"datum":1.8},"y":{"datum":-16.5}}}
]}
],"columns":2,"spacing":{"row":29,"column":28},"bounds":"flush","align":"each"},
{"concat":[
{"width":80,"height":40,"mark":"point","data":{"values":[]},"view":{"stroke":null}},
{"width":28,"height":1,"mark":"point","data":{"values":[]},"view":{"stroke":null}},
{"width":82,"height":1,"mark":"point","data":{"values":[]},"view":{"stroke":null}},
{"width":21,"height":1,"mark":"point","data":{"values":[]},"view":{"stroke":null}},
{"width":83,"height":1,"mark":"point","data":{"values":[]},"view":{"stroke":null}},
{"width":80,"height":205.4,"data":{"name":"p24"},"transform":[{"filter":"datum.d==1"}],
"encoding":{"y":{"field":"v","type":"quantitative","scale":{"domain":[0,140],"nice":false},"axis":{"values":[0,20,40,60,80,100,120,140],"ticks":false,"labelPadding":3,"labelFontSize":11.5,"title":"p24 (ng/ml)","titleFontSize":11.5,"titlePadding":3}}},
"layer":[
{"mark":{"type":"bar","color":"black"},"encoding":{"x":{"field":"g","type":"nominal","sort":["mock","control","SREBP2","TFII-I"],"scale":{"paddingInner":0.57,"paddingOuter":0.28},"axis":{"title":null,"labelAngle":-60,"labelAlign":"right","labelBaseline":"middle","labelFontSize":11.5,"tickSize":3,"tickBand":"extent","labelPadding":2}}}},
{"mark":{"type":"rule","color":"black","strokeWidth":1},"encoding":{"x":{"field":"g","type":"nominal","sort":["mock","control","SREBP2","TFII-I"],"scale":{"paddingInner":0.57,"paddingOuter":0.28},"axis":{"title":null,"labelAngle":-60,"labelAlign":"right","labelBaseline":"middle","labelFontSize":11.5,"tickSize":3,"tickBand":"extent","labelPadding":2}},"y2":{"field":"e"}}},
{"mark":{"type":"tick","color":"black","thickness":1,"size":4},"encoding":{"x":{"field":"g","type":"nominal","sort":["mock","control","SREBP2","TFII-I"],"scale":{"paddingInner":0.57,"paddingOuter":0.28},"axis":{"title":null,"labelAngle":-60,"labelAlign":"right","labelBaseline":"middle","labelFontSize":11.5,"tickSize":3,"tickBand":"extent","labelPadding":2}},"y":{"field":"e","type":"quantitative"}}},
{"transform":[{"filter":"datum.sig==1"}],"mark":{"type":"text","text":"*","fontSize":20,"baseline":"alphabetic","dy":8},"encoding":{"x":{"field":"g","type":"nominal","sort":["mock","control","SREBP2","TFII-I"],"scale":{"paddingInner":0.57,"paddingOuter":0.28},"axis":{"title":null,"labelAngle":-60,"labelAlign":"right","labelBaseline":"middle","labelFontSize":11.5,"tickSize":3,"tickBand":"extent","labelPadding":2}},"y":{"field":"e","type":"quantitative"}}},
{"transform":[{"filter":"datum.g=='mock'"}],"mark":{"type":"text","text":"Donor 1","fontSize":12},"encoding":{"y":{"datum":130.7}}},
{"transform":[{"filter":"datum.g=='mock'"}],"mark":{"type":"text","text":"D","fontSize":12,"fontWeight":"bold","align":"left","baseline":"alphabetic","dx":-77.3},"encoding":{"y":{"datum":166.8}}}
]},
{"width":28,"height":1,"mark":"point","data":{"values":[]},"view":{"stroke":null}},
{"width":82,"height":205.4,"data":{"name":"p24"},"transform":[{"filter":"datum.d==2"}],
"encoding":{"y":{"field":"v","type":"quantitative","scale":{"domain":[0,140],"nice":false},"axis":{"values":[0,20,40,60,80,100,120,140],"ticks":false,"labelPadding":3,"labelFontSize":11.5,"title":null}}},
"layer":[
{"mark":{"type":"bar","color":"black"},"encoding":{"x":{"field":"g","type":"nominal","sort":["mock","control","SREBP2","TFII-I"],"scale":{"paddingInner":0.57,"paddingOuter":0.28},"axis":{"title":null,"labelAngle":-60,"labelAlign":"right","labelBaseline":"middle","labelFontSize":11.5,"tickSize":3,"tickBand":"extent","labelPadding":2}}}},
{"mark":{"type":"rule","color":"black","strokeWidth":1},"encoding":{"x":{"field":"g","type":"nominal","sort":["mock","control","SREBP2","TFII-I"],"scale":{"paddingInner":0.57,"paddingOuter":0.28},"axis":{"title":null,"labelAngle":-60,"labelAlign":"right","labelBaseline":"middle","labelFontSize":11.5,"tickSize":3,"tickBand":"extent","labelPadding":2}},"y2":{"field":"e"}}},
{"mark":{"type":"tick","color":"black","thickness":1,"size":4},"encoding":{"x":{"field":"g","type":"nominal","sort":["mock","control","SREBP2","TFII-I"],"scale":{"paddingInner":0.57,"paddingOuter":0.28},"axis":{"title":null,"labelAngle":-60,"labelAlign":"right","labelBaseline":"middle","labelFontSize":11.5,"tickSize":3,"tickBand":"extent","labelPadding":2}},"y":{"field":"e","type":"quantitative"}}},
{"transform":[{"filter":"datum.sig==1"}],"mark":{"type":"text","text":"*","fontSize":20,"baseline":"alphabetic","dy":8},"encoding":{"x":{"field":"g","type":"nominal","sort":["mock","control","SREBP2","TFII-I"],"scale":{"paddingInner":0.57,"paddingOuter":0.28},"axis":{"title":null,"labelAngle":-60,"labelAlign":"right","labelBaseline":"middle","labelFontSize":11.5,"tickSize":3,"tickBand":"extent","labelPadding":2}},"y":{"field":"e","type":"quantitative"}}},
{"transform":[{"filter":"datum.g=='mock'"}],"mark":{"type":"text","text":"Donor 2","fontSize":12},"encoding":{"y":{"datum":130.7}}}
]},
{"width":21,"height":1,"mark":"point","data":{"values":[]},"view":{"stroke":null}},
{"width":83,"height":205.4,"data":{"name":"p24"},"transform":[{"filter":"datum.d==3"}],
"encoding":{"y":{"field":"v","type":"quantitative","scale":{"domain":[0,14],"nice":false},"axis":{"values":[0,2,4,6,8,10,12,14],"ticks":false,"labelPadding":3,"labelFontSize":11.5,"title":null}}},
"layer":[
{"mark":{"type":"bar","color":"black"},"encoding":{"x":{"field":"g","type":"nominal","sort":["mock","control","SREBP2","TFII-I"],"scale":{"paddingInner":0.57,"paddingOuter":0.28},"axis":{"title":null,"labelAngle":-60,"labelAlign":"right","labelBaseline":"middle","labelFontSize":11.5,"tickSize":3,"tickBand":"extent","labelPadding":2}}}},
{"mark":{"type":"rule","color":"black","strokeWidth":1},"encoding":{"x":{"field":"g","type":"nominal","sort":["mock","control","SREBP2","TFII-I"],"scale":{"paddingInner":0.57,"paddingOuter":0.28},"axis":{"title":null,"labelAngle":-60,"labelAlign":"right","labelBaseline":"middle","labelFontSize":11.5,"tickSize":3,"tickBand":"extent","labelPadding":2}},"y2":{"field":"e"}}},
{"mark":{"type":"tick","color":"black","thickness":1,"size":4},"encoding":{"x":{"field":"g","type":"nominal","sort":["mock","control","SREBP2","TFII-I"],"scale":{"paddingInner":0.57,"paddingOuter":0.28},"axis":{"title":null,"labelAngle":-60,"labelAlign":"right","labelBaseline":"middle","labelFontSize":11.5,"tickSize":3,"tickBand":"extent","labelPadding":2}},"y":{"field":"e","type":"quantitative"}}},
{"transform":[{"filter":"datum.sig==1"}],"mark":{"type":"text","text":"*","fontSize":20,"baseline":"alphabetic","dy":8},"encoding":{"x":{"field":"g","type":"nominal","sort":["mock","control","SREBP2","TFII-I"],"scale":{"paddingInner":0.57,"paddingOuter":0.28},"axis":{"title":null,"labelAngle":-60,"labelAlign":"right","labelBaseline":"middle","labelFontSize":11.5,"tickSize":3,"tickBand":"extent","labelPadding":2}},"y":{"field":"e","type":"quantitative"}}},
{"transform":[{"filter":"datum.g=='mock'"}],"mark":{"type":"text","text":"Donor 3","fontSize":12},"encoding":{"y":{"datum":13.07}}}
]}
],"columns":5,"spacing":0,"bounds":"flush","align":"each"}
],"spacing":17.6,"align":"none"}
]
}
